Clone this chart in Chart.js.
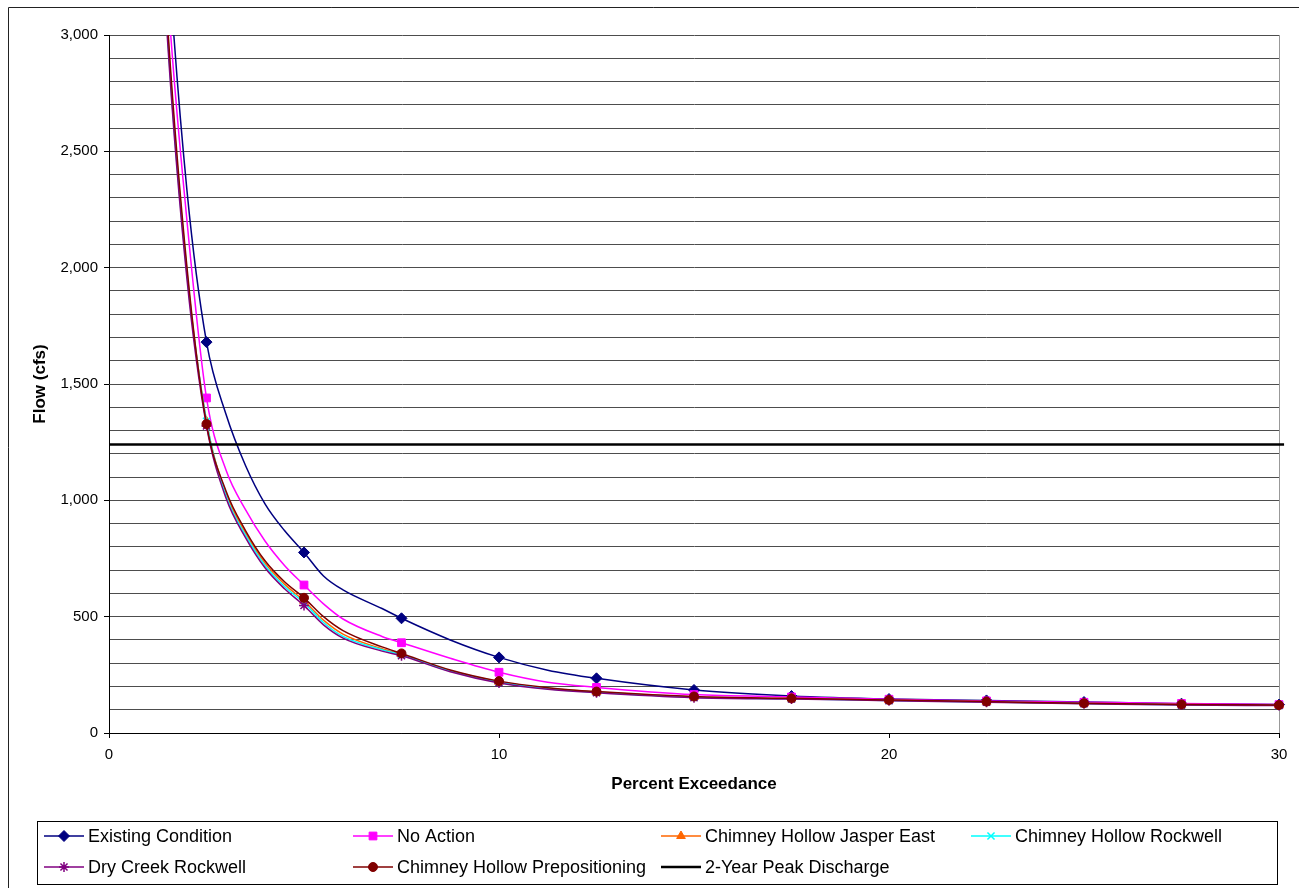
<!DOCTYPE html>
<html>
<head>
<meta charset="utf-8">
<title>Flow Duration - Percent Exceedance</title>
<script src="https://cdn.jsdelivr.net/npm/chart.js@4.4.1/dist/chart.umd.min.js"></script>
<style>
    html, body { margin: 0; padding: 0; background: #fff; }
    canvas { display: block; }
</style>
</head>
<body>
<canvas id="mainChart" width="1299" height="888"></canvas>
<script>
// ---- data ----
let percent = [1, 1.5, 2, 2.5, 3, 3.5, 4, 4.5, 5, 5.5, 6, 7, 7.5, 8.75, 10, 11.25, 12.5, 15, 17.5, 20, 22.5, 25, 27.5, 30];

let existingCondition  = [5000, 3400, 2330, 1680, 1370, 1150, 985, 870, 776, 675, 615, 535, 493, 400, 325, 270, 235, 185, 159, 146, 140, 133, 126, 122];
let noAction           = [4800, 3200, 2200, 1440, 1130, 960, 825, 720, 636, 555, 490, 415, 388, 321, 261, 218, 196, 165, 155, 145, 138, 132, 127, 122];
let chJasperEast       = [4600, 3020, 1980, 1340, 1030, 860, 730, 640, 568, 485, 425, 362, 338, 268, 220, 192, 176, 155, 148, 141, 134, 127, 122, 119];
let chRockwell         = [4600, 3000, 1970, 1340, 1020, 850, 720, 630, 560, 475, 415, 358, 336, 266, 218, 190, 175, 154, 147, 140, 133, 127, 121, 119];
let dryCreekRockwell   = [4550, 2980, 1950, 1320, 1010, 840, 710, 620, 548, 465, 408, 352, 332, 263, 215, 188, 173, 152, 146, 139, 132, 126, 120, 118];
let chPrepositioning   = [4600, 3050, 2000, 1328, 1040, 870, 740, 650, 581, 500, 440, 370, 342, 271, 223, 195, 178, 157, 149, 142, 135, 128, 123, 120];

let peakX    = [0, 30.13];
let peakFlow = [1240, 1240];

let seriesNames = ["Existing Condition", "No Action", "Chimney Hollow Jasper East", "Chimney Hollow Rockwell",
    "Dry Creek Rockwell", "Chimney Hollow Prepositioning", "2-Year Peak Discharge"];

let xTicks = [0, 10, 20, 30];

// ---- styles ----
let seriesStyle = [
    {color: "#000080", marker: "rectRot",  radius: 5.5},
    {color: "#FF00FF", marker: "rect",     radius: 5.5},
    {color: "#FF6600", marker: "triangle", radius: 5},
    {color: "#00FFFF", marker: "crossRot", radius: 5},
    {color: "#800080", marker: "star",     radius: 5},
    {color: "#800000", marker: "circle",   radius: 4.5},
    {color: "#000000", marker: false,      radius: 0}
];

Chart.defaults.font.family = "'Liberation Sans', Arial, sans-serif";
Chart.defaults.color = "#000";

function makePoints(xs, ys) {
    let pts = [];
    for (let i = 0; i < xs.length; i++) {
        pts.push({x: xs[i], y: ys[i]});
    }
    return pts;
}

function makeDataSets() {
    let values = [existingCondition, noAction, chJasperEast, chRockwell, dryCreekRockwell, chPrepositioning];
    let dataSets = [];

    for (let i = 0; i < values.length; i++) {
        let st = seriesStyle[i];
        dataSets.push({
            label: seriesNames[i],
            data: makePoints(percent, values[i]),
            borderColor: st.color,
            backgroundColor: st.color,
            borderWidth: 1.5,
            pointStyle: st.marker,
            // markers only every 2.5 %
            pointRadius: function (ctx) {
                return (ctx.raw && ctx.raw.x % 2.5 === 0) ? st.radius : 0;
            },
            pointBorderWidth: (st.marker === "crossRot" || st.marker === "star") ? 1.5 : 1,
            pointBorderColor: st.color,
            pointBackgroundColor: st.color,
            cubicInterpolationMode: "monotone",
            clip: {left: 10, top: 0, right: 10, bottom: 10},
            order: values.length - i
        });
    }

    // horizontal reference line
    dataSets.push({
        label: seriesNames[6],
        data: makePoints(peakX, peakFlow),
        borderColor: seriesStyle[6].color,
        backgroundColor: seriesStyle[6].color,
        borderWidth: 2.5,
        pointRadius: 0,
        clip: {left: 0, top: 0, right: 8, bottom: 0},
        order: 0
    });
    return dataSets;
}

// white page + frame edges (left and top)
const framePlugin = {
    id: "frame",
    beforeDraw(chart) {
        let ctx = chart.ctx;
        ctx.save();
        ctx.fillStyle = "#fff";
        ctx.fillRect(0, 0, chart.width, chart.height);
        ctx.strokeStyle = "#222";
        ctx.lineWidth = 1;
        ctx.beginPath();
        ctx.moveTo(8.5, chart.height);
        ctx.lineTo(8.5, 7.5);
        ctx.lineTo(chart.width, 7.5);
        ctx.stroke();
        ctx.restore();
    }
};

// boxed legend laid out in columns like the original
const boxLegendPlugin = {
    id: "boxLegend",
    afterDraw(chart) {
        let ctx = chart.ctx;
        let cols = [44, 353, 661, 971];
        let rows = [836, 867];
        let sampleLen = 40;

        ctx.save();
        ctx.strokeStyle = "#000";
        ctx.lineWidth = 1;
        ctx.strokeRect(37.5, 821.5, 1240, 63);

        ctx.font = "18px 'Liberation Sans', Arial, sans-serif";
        ctx.textBaseline = "middle";
        ctx.textAlign = "left";

        let dsets = chart.data.datasets;
        for (let i = 0; i < dsets.length; i++) {
            let st = seriesStyle[i];
            let x0 = cols[i % 4];
            let y0 = rows[Math.floor(i / 4)];

            ctx.strokeStyle = st.color;
            ctx.fillStyle = st.color;
            ctx.lineWidth = (i === 6) ? 2.5 : 1.5;
            ctx.beginPath();
            ctx.moveTo(x0, y0);
            ctx.lineTo(x0 + sampleLen, y0);
            ctx.stroke();

            if (st.marker) {
                ctx.lineWidth = (st.marker === "crossRot" || st.marker === "star") ? 1.5 : 1;
                Chart.helpers.drawPoint(ctx, {
                    pointStyle: st.marker,
                    radius: st.radius,
                    rotation: 0,
                    borderWidth: ctx.lineWidth
                }, x0 + sampleLen / 2, y0);
            }

            ctx.fillStyle = "#000";
            ctx.fillText(dsets[i].label, x0 + sampleLen + 4, y0 + 1);
        }
        ctx.restore();
    }
};

function drawChart() {
    let canvas = document.getElementById("mainChart");

    new Chart(canvas, {
        type: "line",
        data: {
            datasets: makeDataSets()
        },
        plugins: [framePlugin, boxLegendPlugin],
        options: {
            responsive: false,
            animation: false,
            devicePixelRatio: 1,
            layout: {
                padding: {left: 0, top: 35, right: 20, bottom: 88}
            },
            plugins: {
                legend: {display: false},
                tooltip: {enabled: false}
            },
            scales: {
                x: {
                    type: "linear",
                    min: 0,
                    max: 30,
                    afterBuildTicks: function (scale) {
                        scale.ticks = xTicks.map(function (v) { return {value: v}; });
                    },
                    afterFit: function (scale) {
                        scale.height = 67;
                    },
                    ticks: {
                        font: {size: 15},
                        padding: 8,
                        maxRotation: 0
                    },
                    grid: {
                        color: function (ctx) {
                            return (ctx.tick && ctx.tick.value === 30) ? "#999999" : "rgba(0,0,0,0)";
                        },
                        tickColor: "#000",
                        tickLength: 5
                    },
                    border: {color: "#000", width: 1},
                    title: {
                        display: true,
                        text: "Percent Exceedance",
                        font: {size: 17, weight: "bold"},
                        padding: {top: 4, bottom: 5}
                    }
                },
                y: {
                    min: 0,
                    max: 3000,
                    afterFit: function (scale) {
                        scale.width = 109;
                    },
                    ticks: {
                        stepSize: 100,
                        autoSkip: false,
                        font: {size: 15},
                        padding: 6,
                        callback: function (v) {
                            return (v % 500 === 0) ? v.toLocaleString("en-US") : "";
                        }
                    },
                    grid: {
                        color: "#4d4d4d",
                        tickColor: function (ctx) {
                            return (ctx.tick && ctx.tick.value % 500 === 0) ? "#000" : "rgba(0,0,0,0)";
                        },
                        tickLength: 5
                    },
                    border: {color: "#000", width: 1},
                    title: {
                        display: true,
                        text: "Flow (cfs)",
                        font: {size: 17, weight: "bold"},
                        padding: {top: 30, bottom: 0}
                    }
                }
            }
        }
    });
}

drawChart();
</script>
</body>
</html>
